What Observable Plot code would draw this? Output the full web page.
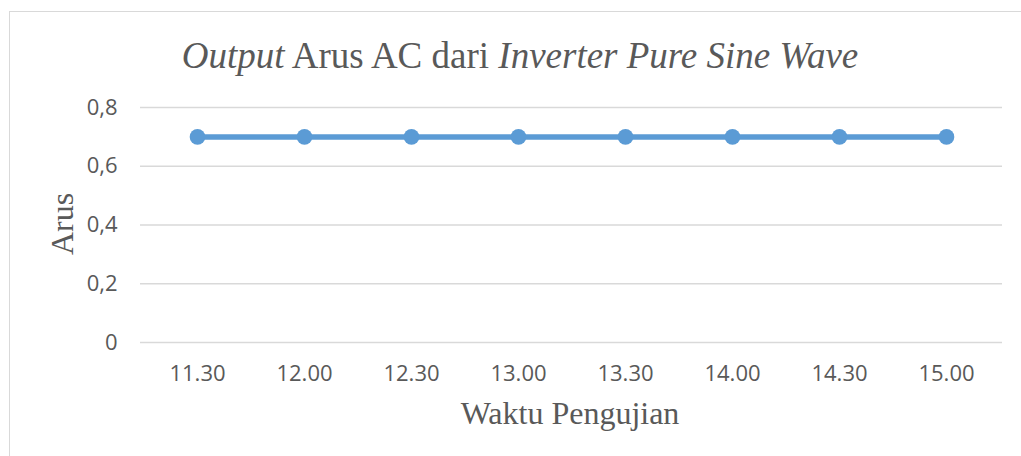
<!DOCTYPE html>
<html>
<head>
<meta charset="utf-8">
<script src="https://cdn.jsdelivr.net/npm/d3@7"></script>
<script src="https://cdn.jsdelivr.net/npm/@observablehq/plot@0.6"></script>
<style>
  html, body { margin: 0; padding: 0; background: #fff; overflow: hidden; }
  #wrap { position: relative; width: 1021px; height: 456px; }
  #border { position: absolute; left: 9px; top: 11px; width: 1030px; height: 470px; border: 1.5px solid #d9d9d9; box-sizing: border-box; pointer-events: none; }
  #wrap svg { position: absolute; left: 0; top: 0; }
</style>
</head>
<body>
<div id="wrap"><div id="border"></div></div>
<script>
const times = ["11.30", "12.00", "12.30", "13.00", "13.30", "14.00", "14.30", "15.00"];
const arus = [0.7, 0.7, 0.7, 0.7, 0.7, 0.7, 0.7, 0.7];
const yTicks = [0, 0.2, 0.4, 0.6, 0.8];
const titleParts = [["Output", true], [" Arus AC dari ", false], ["Inverter Pure Sine Wave", true]];
const yLabel = "Arus";
const xLabel = "Waktu Pengujian";

const data = times.map((t, i) => ({time: t, value: arus[i]}));
const fmt = d => String(d).replace(".", ",");
const textColor = "#595959";
const lineColor = "#5B9BD5";

const chart = Plot.plot({
  width: 1021,
  height: 456,
  marginLeft: 140,
  marginRight: 19,
  marginTop: 107,
  marginBottom: 114,
  style: { background: "transparent", color: textColor },
  x: { type: "point", domain: times, padding: 0.5, align: 0.5, label: null },
  y: { domain: [0, 0.8], label: null },
  marks: [
    Plot.gridY(yTicks, { stroke: "#d9d9d9", strokeOpacity: 1, strokeWidth: 1.5 }),
    Plot.axisY(yTicks, { tickSize: 0, tickPadding: 23, tickFormat: fmt, fontSize: 22, fontFamily: "Open Sans", fill: textColor, label: null }),
    Plot.axisX({ tickSize: 0, tickPadding: 23, fontSize: 22, fontFamily: "Open Sans", fill: textColor, label: null }),
    Plot.line(data, { x: "time", y: "value", stroke: lineColor, strokeWidth: 5.5 }),
    Plot.dot(data, { x: "time", y: "value", r: 7.8, fill: lineColor, stroke: "none" })
  ]
});

const svg = d3.select(chart);
const serif = "'Liberation Serif', 'Times New Roman', serif";
const title = svg.append("text")
  .attr("x", 520).attr("y", 68)
  .attr("text-anchor", "middle")
  .attr("font-family", serif).attr("font-size", 37)
  .attr("fill", textColor);
titleParts.forEach(([s, it]) => {
  title.append("tspan").attr("font-style", it ? "italic" : "normal").text(s);
});
svg.append("text")
  .attr("transform", "translate(73,224) rotate(-90)")
  .attr("text-anchor", "middle")
  .attr("font-family", serif).attr("font-size", 32)
  .attr("fill", textColor)
  .text(yLabel);
svg.append("text")
  .attr("x", 570).attr("y", 424)
  .attr("text-anchor", "middle")
  .attr("font-family", serif).attr("font-size", 32)
  .attr("fill", textColor)
  .text(xLabel);

document.getElementById("wrap").appendChild(chart);
</script>
</body>
</html>
